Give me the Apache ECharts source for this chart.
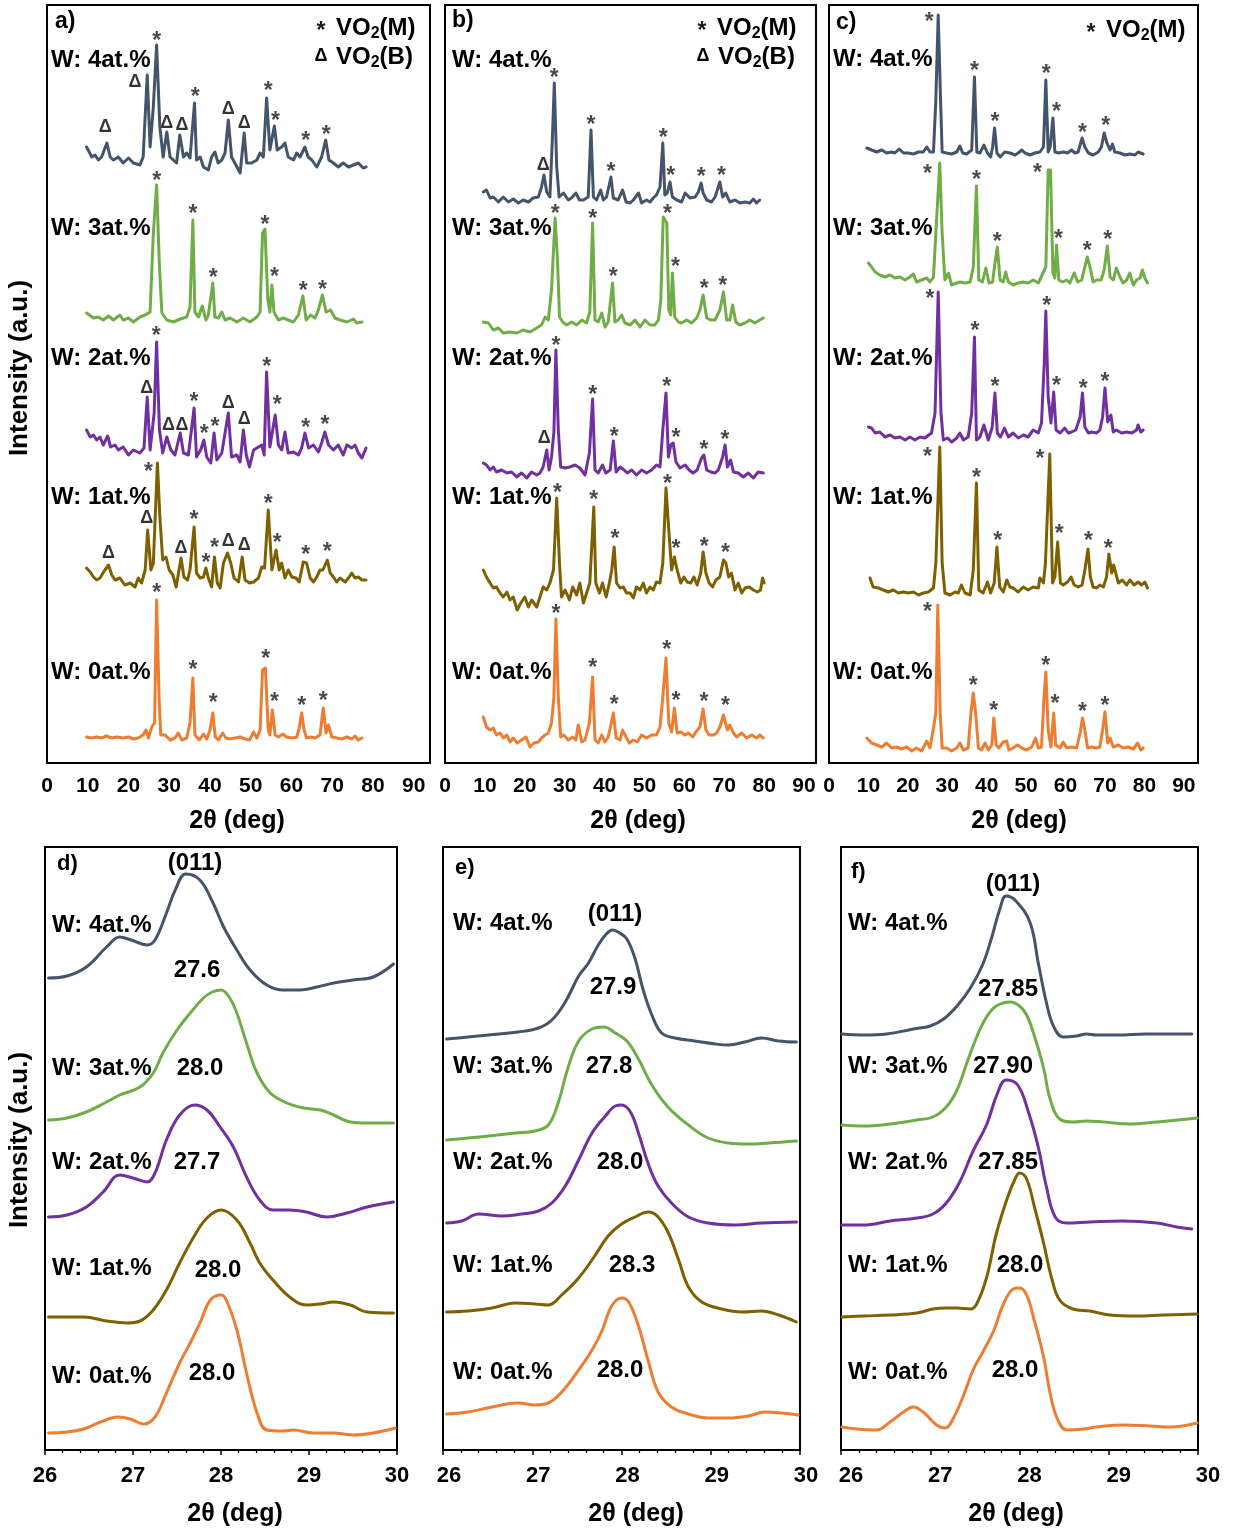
<!DOCTYPE html>
<html>
<head>
<meta charset="utf-8">
<script src="https://cdn.jsdelivr.net/npm/echarts@6/dist/echarts.min.js"></script>
<style>
html, body { margin: 0; padding: 0; background: #fff; }
#chart { width: 1233px; height: 1531px; }
</style>
</head>
<body>
<div id="chart"></div>
<script>
// ---------- tick labels ----------
const wideTicks = [0, 10, 20, 30, 40, 50, 60, 70, 80, 90];
const zoomTicks = [26, 27, 28, 29, 30];

// ---------- sample names ----------
const samples = ['W: 4at.%', 'W: 3at.%', 'W: 2at.%', 'W: 1at.%', 'W: 0at.%'];

// ---------- full XRD patterns, [2θ, intensity a.u. above each trace's baseline] ----------
// panel a
const patA4 = [[9.7,16],[11.0,6],[11.8,8],[12.6,3],[13.4,6],[14.7,20],[15.5,6],[16.3,3],[17.5,6],[18.7,0],[20.0,5],[21.2,0],[22.8,-2],[23.6,6],[24.6,88],[25.3,16],[26.1,56],[26.9,118],[27.7,36],[28.5,6],[29.4,31],[30.2,6],[31.0,3],[31.8,0],[32.6,28],[33.5,6],[34.3,10],[35.1,5],[36.2,60],[36.7,3],[37.6,6],[38.4,-4],[39.6,-7],[40.4,6],[41.2,11],[42.0,0],[42.9,3],[43.7,10],[44.5,43],[45.3,6],[46.1,0],[47.4,-10],[48.4,30],[49.0,0],[50.2,0],[51.5,3],[52.3,10],[53.1,6],[53.9,65],[54.7,13],[55.8,37],[56.5,13],[57.6,16],[58.4,20],[59.2,6],[60.5,3],[61.3,10],[62.1,6],[63.3,16],[64.1,6],[65.0,3],[66.2,-4],[67.4,6],[68.4,23],[69.2,3],[70.3,0],[71.5,-4],[72.7,0],[74.0,-4],[75.2,-2],[76.4,0],[77.6,-5],[78.3,-4]];
const patA3 = [[9.7,6],[11.4,1],[12.6,2],[13.8,-1],[15.1,3],[16.3,-1],[17.9,4],[18.7,-1],[20.0,1],[21.2,-3],[22.8,2],[24.1,4],[25.3,7],[26.1,86],[26.9,134],[27.6,52],[28.2,6],[29.4,-1],[31.0,-3],[32.7,0],[34.3,2],[35.1,12],[35.8,99],[36.3,7],[37.2,2],[38.1,13],[39.0,-1],[39.6,4],[40.7,36],[41.2,2],[42.1,1],[42.9,7],[43.7,-1],[44.9,1],[46.6,-3],[48.2,1],[49.8,-3],[51.5,2],[52.3,7],[52.9,86],[53.5,90],[54.2,19],[54.7,7],[55.2,34],[55.7,7],[56.8,-1],[58.0,1],[59.2,-1],[60.5,-3],[61.7,4],[62.8,23],[63.6,-1],[64.7,4],[65.8,1],[66.6,9],[67.6,24],[68.5,7],[69.6,9],[70.7,1],[71.9,-1],[73.6,-3],[75.2,0],[76.0,-4],[77.3,-3]];
const patA2 = [[9.7,22],[10.6,15],[11.4,17],[12.2,12],[13.0,15],[13.8,7],[14.9,16],[15.6,5],[16.7,7],[17.5,2],[18.7,5],[20.0,-3],[21.2,2],[22.8,-1],[23.8,4],[24.6,55],[25.3,2],[26.3,39],[26.9,110],[27.6,22],[28.4,-1],[29.4,15],[30.4,2],[31.4,-3],[32.7,19],[33.5,-1],[34.7,-3],[36.1,44],[36.7,-5],[37.7,2],[38.5,12],[39.2,-5],[40.2,-11],[41.0,19],[41.7,-8],[42.9,-1],[44.5,39],[45.3,-5],[46.6,-3],[47.4,-10],[48.2,22],[48.9,-3],[49.7,-15],[50.7,2],[51.9,5],[52.7,7],[53.3,-3],[53.9,80],[54.7,5],[56.0,37],[56.8,7],[57.6,2],[58.4,20],[59.2,-1],[60.5,0],[61.7,-3],[62.5,4],[63.3,19],[64.2,4],[65.4,7],[66.6,0],[67.4,9],[68.2,20],[69.1,7],[70.3,2],[71.5,7],[72.7,-3],[73.6,7],[74.8,4],[75.6,7],[76.4,-1],[77.3,-6],[78.3,4]];
const patA1 = [[9.7,10],[10.6,6],[11.4,1],[12.2,-2],[13.0,0],[14.2,8],[15.1,13],[15.9,3],[16.7,-2],[17.9,0],[19.1,-7],[20.4,-5],[21.6,-9],[22.4,0],[23.2,-5],[24.1,8],[24.7,48],[25.5,8],[26.1,15],[27.1,115],[27.7,61],[28.4,18],[29.2,21],[30.0,8],[30.9,3],[31.7,-9],[32.9,20],[33.6,1],[34.5,-2],[35.1,8],[36.1,51],[36.7,5],[37.6,0],[38.4,1],[39.0,10],[39.6,0],[40.4,-9],[41.1,21],[41.8,-5],[42.5,-10],[43.3,15],[44.3,25],[45.1,15],[45.9,0],[47.0,-4],[47.9,21],[48.6,-2],[49.7,-5],[50.7,-4],[51.9,0],[52.7,11],[53.4,10],[54.3,68],[55.2,8],[56.2,28],[57.0,8],[57.6,15],[58.4,0],[59.2,8],[60.1,1],[61.1,0],[61.9,-4],[62.9,16],[63.7,15],[64.6,0],[65.4,-4],[66.2,1],[67.0,8],[67.7,8],[68.8,18],[69.5,5],[70.3,1],[71.1,-4],[71.9,0],[73.2,-4],[74.0,0],[74.8,5],[75.6,0],[76.4,1],[77.3,-2],[78.3,-2]];
const patA0 = [[9.7,1],[11.0,0],[12.2,1],[13.4,0],[14.6,2],[15.9,0],[17.1,1],[18.7,0],[20.0,1],[21.2,-1],[22.4,0],[23.6,3],[24.3,8],[24.9,0],[25.7,11],[26.4,15],[26.9,138],[27.5,41],[27.9,3],[29.0,3],[30.2,-2],[31.4,0],[32.2,5],[33.1,-2],[34.3,0],[35.1,15],[35.8,60],[36.3,3],[37.4,-2],[38.4,4],[39.2,-1],[40.0,8],[40.7,25],[41.3,1],[42.1,-2],[43.1,5],[43.9,0],[44.9,-1],[46.2,0],[47.4,1],[48.6,-1],[49.7,-2],[50.7,6],[51.5,0],[52.3,8],[52.9,68],[53.6,70],[54.3,8],[54.7,3],[55.3,28],[56.0,3],[56.8,1],[57.9,4],[58.8,1],[60.1,0],[61.3,1],[61.9,10],[62.5,25],[63.1,8],[63.7,0],[64.7,1],[65.8,0],[67.0,3],[67.8,30],[68.5,5],[69.1,13],[69.9,1],[71.1,0],[72.3,-1],[73.6,1],[74.8,-1],[75.6,2],[76.4,-2],[77.3,0]];
// panel b
const patB4 = [[9.6,8],[10.4,10],[11.3,2],[12.1,3],[13.4,-2],[14.6,3],[15.9,-2],[17.1,1],[18.4,-3],[19.6,0],[20.9,-2],[22.1,2],[23.4,3],[24.2,13],[24.8,25],[25.5,8],[26.3,3],[26.9,60],[27.4,117],[28.0,33],[28.6,3],[29.7,7],[30.9,0],[31.7,2],[32.8,7],[33.7,0],[34.7,0],[35.9,3],[36.6,70],[37.2,3],[38.0,0],[39.0,10],[39.7,0],[40.5,3],[41.6,23],[42.2,2],[43.4,0],[44.5,10],[45.4,-2],[46.4,-3],[47.2,0],[48.5,7],[49.3,-3],[50.5,0],[51.4,-2],[52.2,2],[53.0,5],[53.9,13],[54.6,57],[55.1,5],[55.7,7],[56.4,18],[57.0,3],[58.1,0],[59.3,-2],[60.2,7],[61.4,2],[62.7,3],[63.5,8],[64.2,17],[64.7,7],[65.6,0],[66.8,-2],[67.7,3],[68.9,18],[69.6,3],[70.4,7],[71.4,-2],[72.7,0],[73.9,-3],[75.2,-2],[76.4,-3],[77.3,1],[78.1,-3],[78.9,0]];
const patB3 = [[9.6,0],[10.9,-1],[12.1,-8],[13.4,-6],[14.6,-11],[16.3,-10],[18.0,-11],[19.6,-8],[21.3,-10],[23.0,-6],[24.2,-3],[25.1,5],[25.9,2],[26.7,32],[27.6,104],[28.2,62],[28.7,5],[29.5,0],[30.5,-3],[31.7,0],[33.0,-3],[34.3,2],[35.5,-1],[36.3,10],[37.0,99],[37.6,2],[38.4,0],[39.3,9],[40.1,-5],[40.9,0],[42.0,39],[42.6,0],[43.4,2],[44.3,7],[45.1,-1],[46.4,-3],[47.6,2],[48.9,-5],[50.1,2],[51.4,-3],[52.6,-3],[53.5,2],[54.1,22],[54.7,105],[55.6,99],[56.1,12],[56.6,7],[57.0,49],[57.6,5],[58.5,0],[59.3,-1],[60.6,2],[61.8,-1],[63.1,4],[63.9,12],[64.7,27],[65.6,4],[66.6,2],[67.7,2],[68.9,12],[69.8,30],[70.6,2],[71.4,2],[72.1,17],[72.9,0],[73.9,-3],[75.2,-1],[76.4,2],[77.7,-1],[78.9,2],[79.8,4]];
const patB2 = [[9.6,9],[10.4,7],[11.3,2],[12.1,5],[12.9,0],[14.2,2],[15.5,-1],[16.7,0],[18.0,-5],[19.2,-1],[20.5,-6],[21.7,0],[23.0,-3],[23.8,-1],[24.6,5],[25.5,22],[26.1,2],[26.7,15],[27.3,40],[27.8,122],[28.4,42],[29.0,5],[30.1,4],[31.3,5],[32.6,7],[33.8,4],[35.1,-3],[36.2,19],[37.0,73],[37.6,2],[38.4,-1],[39.5,7],[40.3,-1],[41.4,2],[42.2,31],[42.9,0],[43.9,5],[44.9,2],[45.7,-1],[46.8,2],[48.0,-3],[49.3,2],[50.5,-1],[51.8,2],[53.0,7],[53.9,5],[54.6,42],[55.4,79],[56.0,15],[56.6,27],[57.2,29],[57.9,10],[58.9,4],[60.2,7],[61.2,2],[62.2,-1],[63.2,2],[64.3,14],[64.9,17],[65.6,2],[66.6,0],[67.7,-1],[68.5,2],[69.6,15],[70.2,27],[70.8,5],[71.6,12],[72.3,0],[73.5,-1],[74.8,-5],[76.0,-1],[77.3,-6],[78.5,0],[79.8,-1]];
const patB1 = [[9.6,17],[10.4,10],[11.3,4],[12.1,-1],[12.9,0],[13.8,-6],[14.6,-10],[15.5,-5],[16.3,-13],[17.1,-10],[18.1,-23],[19.0,-16],[20.0,-10],[20.9,-20],[21.7,-13],[23.0,-20],[23.8,-10],[24.6,0],[25.5,-3],[26.3,4],[27.2,17],[28.0,89],[28.7,24],[29.2,-10],[30.1,-3],[31.2,-13],[32.0,0],[33.0,-8],[33.8,4],[34.7,-16],[35.5,-6],[36.3,4],[37.3,80],[37.8,4],[38.7,-6],[39.5,4],[40.4,-10],[41.2,4],[41.8,17],[42.4,40],[43.0,4],[43.9,-1],[44.7,0],[45.5,-6],[46.4,-6],[47.2,-11],[48.0,0],[48.9,-3],[49.7,4],[50.5,-6],[51.4,0],[52.2,-3],[53.0,5],[53.9,4],[54.6,24],[55.4,99],[56.1,57],[56.8,17],[57.5,30],[58.2,17],[59.1,4],[59.9,10],[60.7,5],[61.6,4],[62.4,10],[63.2,2],[64.1,14],[64.7,35],[65.4,14],[66.2,4],[67.1,0],[67.9,7],[68.9,10],[69.8,27],[70.4,24],[71.1,10],[71.8,14],[72.7,-3],[73.5,4],[74.4,-6],[75.2,-1],[76.3,0],[77.3,-3],[78.3,-5],[79.1,-3],[79.6,9],[80.0,4]];
const patB0 = [[9.6,20],[10.4,10],[11.3,7],[12.1,9],[12.9,2],[13.8,4],[14.6,-1],[15.5,2],[16.3,-5],[17.1,-1],[18.1,-6],[19.2,-3],[20.3,0],[21.3,-10],[22.3,-6],[23.4,-5],[24.2,-1],[25.1,2],[25.9,4],[26.7,14],[27.3,40],[27.8,118],[28.4,40],[29.0,0],[29.8,2],[30.9,-3],[32.0,0],[32.8,-3],[33.4,12],[34.3,-5],[35.1,-3],[36.2,14],[37.0,60],[37.6,-3],[38.4,-6],[39.3,2],[40.1,-5],[40.9,0],[41.5,10],[42.2,24],[42.9,-1],[43.9,-3],[44.5,7],[45.4,0],[46.2,-6],[47.2,-3],[48.2,-5],[49.3,2],[50.5,-1],[51.8,2],[53.0,2],[53.9,10],[54.6,40],[55.4,79],[56.1,14],[56.8,5],[57.5,29],[58.2,4],[59.1,5],[60.2,2],[61.0,4],[62.1,0],[62.9,5],[63.9,10],[64.7,28],[65.4,7],[66.2,2],[67.3,2],[68.1,4],[68.9,10],[69.8,22],[70.2,24],[70.8,7],[71.4,12],[72.3,4],[73.1,0],[74.4,4],[75.6,-1],[76.9,2],[78.1,-1],[78.9,2],[79.8,-1]];
// panel c
const patC4 = [[9.6,5],[10.8,3],[12.1,1],[13.4,3],[14.6,0],[15.9,1],[16.7,0],[17.8,4],[18.9,0],[20.1,0],[21.4,-1],[22.7,1],[23.9,1],[24.8,6],[25.6,1],[26.5,1],[27.1,53],[27.7,138],[28.3,53],[28.7,1],[29.8,0],[31.1,-1],[32.4,1],[33.2,7],[33.9,0],[34.9,-1],[36.2,3],[36.9,76],[37.5,1],[38.3,0],[39.3,8],[40.2,0],[41.0,-4],[41.5,6],[42.0,25],[42.6,0],[43.4,-4],[44.6,1],[45.9,0],[47.2,-2],[48.0,0],[48.9,3],[49.7,0],[51.0,-2],[52.2,0],[53.5,1],[54.4,6],[55.0,73],[55.6,1],[56.1,6],[56.8,35],[57.3,1],[58.2,0],[59.4,1],[60.5,0],[61.5,3],[62.4,0],[63.2,1],[64.2,15],[64.9,6],[65.8,0],[67.0,-2],[68.3,1],[69.1,6],[69.8,20],[70.5,10],[71.3,3],[71.9,9],[72.5,1],[73.8,0],[75.1,-2],[76.3,-1],[77.6,-2],[78.4,1],[79.7,-1]];
const patC3 = [[10.0,18],[10.8,14],[11.7,9],[12.9,6],[14.2,4],[15.5,6],[16.7,3],[18.0,4],[19.3,1],[20.5,4],[21.4,7],[22.2,-1],[23.5,1],[24.8,3],[25.6,-1],[26.5,4],[27.1,48],[28.1,118],[28.7,48],[29.4,1],[30.3,8],[31.1,-4],[32.4,-2],[33.2,-1],[34.5,-2],[35.8,-1],[36.6,14],[37.4,95],[38.0,1],[38.9,-1],[39.8,13],[40.6,-2],[41.5,-1],[42.1,18],[42.7,34],[43.4,1],[44.2,-1],[44.8,9],[45.5,-1],[46.7,-4],[48.0,-2],[49.3,-1],[50.5,-2],[51.8,1],[53.1,-2],[54.4,9],[55.0,14],[55.6,111],[56.2,111],[56.8,8],[57.3,3],[57.7,36],[58.3,1],[59.2,-1],[60.3,1],[61.1,-2],[62.2,8],[63.1,-1],[64.1,1],[64.9,14],[65.5,24],[66.2,14],[67.0,-1],[67.9,1],[69.0,1],[69.8,11],[70.6,35],[71.3,4],[72.1,1],[72.9,13],[73.8,4],[74.6,-2],[75.5,1],[76.3,8],[77.2,-4],[78.0,1],[78.9,3],[79.5,11],[80.1,3],[80.8,-2]];
const patC2 = [[10.0,6],[10.8,5],[11.7,0],[12.9,1],[14.2,-4],[15.5,-2],[16.7,-5],[18.0,-4],[19.3,-7],[20.5,-4],[21.8,-7],[23.1,-4],[24.3,-5],[26.0,0],[26.9,20],[27.7,141],[28.4,20],[29.0,-7],[30.1,-5],[31.1,-9],[32.4,-5],[33.2,0],[34.1,-7],[35.3,-4],[36.2,20],[36.9,96],[37.4,-7],[38.3,-4],[39.3,8],[40.4,-7],[41.4,6],[42.1,40],[42.7,0],[43.5,-4],[44.5,5],[45.5,-4],[46.7,0],[48.0,-5],[49.3,-2],[50.5,-4],[51.8,3],[53.1,0],[53.9,10],[54.6,70],[55.0,122],[55.6,36],[56.3,10],[57.0,41],[57.6,3],[58.6,0],[59.8,5],[60.7,0],[61.5,1],[62.6,3],[63.7,16],[64.3,40],[64.9,6],[65.8,0],[66.6,1],[67.9,0],[68.7,3],[69.4,16],[70.0,45],[70.7,11],[71.5,18],[72.1,1],[72.9,3],[74.2,0],[75.5,1],[76.8,0],[78.0,3],[78.4,8],[79.1,1],[79.7,3]];
const patC1 = [[10.4,9],[11.2,0],[12.5,-1],[13.8,-3],[15.0,-5],[16.3,-3],[17.6,-6],[18.9,-5],[20.1,-6],[21.4,-5],[22.7,-8],[23.9,-6],[25.2,-5],[26.5,-1],[27.1,24],[28.1,140],[28.7,24],[29.4,-6],[30.7,-8],[32.0,-5],[32.8,-6],[33.6,2],[34.5,-6],[35.8,-8],[36.6,17],[37.4,104],[38.0,-3],[39.1,-6],[40.2,5],[41.0,-6],[41.9,4],[42.6,40],[43.3,0],[44.2,-5],[45.1,7],[45.9,0],[46.7,-1],[48.0,-5],[49.3,0],[50.5,-3],[51.8,0],[53.1,-1],[53.5,9],[54.4,4],[54.9,24],[56.0,133],[56.7,4],[57.3,10],[58.0,45],[58.7,4],[59.4,2],[60.5,5],[61.4,10],[62.2,2],[63.2,0],[64.2,2],[64.9,17],[65.7,38],[66.3,10],[67.0,0],[67.9,-1],[68.7,2],[69.6,0],[70.4,10],[71.0,33],[71.7,14],[72.2,22],[72.7,20],[73.4,4],[74.4,7],[75.5,2],[76.3,7],[77.4,2],[78.4,5],[79.3,2],[80.1,5],[80.8,-1]];
const patC0 = [[9.6,9],[10.8,4],[12.1,2],[13.4,0],[14.6,4],[15.9,-1],[17.2,0],[18.4,-2],[19.7,0],[21.0,-4],[22.2,-1],[23.5,-4],[24.8,6],[25.6,-1],[26.5,19],[27.1,34],[27.6,142],[28.2,34],[28.7,-1],[29.8,-1],[31.1,-4],[32.4,-1],[33.2,4],[34.1,-3],[35.3,-1],[36.0,34],[36.6,54],[37.2,34],[37.9,-1],[38.7,-3],[39.6,4],[40.4,-3],[41.3,2],[41.8,29],[42.4,2],[43.1,-1],[44.2,5],[45.1,6],[45.6,-3],[46.7,-1],[47.8,2],[48.9,-1],[50.1,-3],[51.4,0],[52.4,9],[53.1,-1],[53.9,0],[54.5,47],[55.0,75],[55.6,17],[56.3,0],[57.0,34],[57.5,2],[58.6,-1],[59.4,5],[60.3,-1],[61.5,0],[62.8,-1],[63.7,14],[64.3,29],[64.9,17],[65.6,-1],[66.6,0],[67.9,-1],[68.7,0],[69.4,17],[70.0,35],[70.7,4],[71.3,9],[72.1,0],[73.4,2],[74.6,-1],[75.9,0],[77.2,-2],[78.3,4],[79.1,-3],[79.7,-1]];

// ---------- (011) reflection close-ups ----------
const peakD = ['27.6', '28.0', '27.7', '28.0', '28.0'];
const peakE = ['27.9', '27.8', '28.0', '28.3', '28.0'];
const peakF = ['27.85', '27.90', '27.85', '28.0', '28.0'];

const zoomD4 = [[26.04,7],[26.25,9],[26.47,18],[26.70,38],[26.85,48],[26.98,45],[27.16,40],[27.25,45],[27.38,72],[27.48,95],[27.6,111],[27.76,105],[27.91,82],[28.03,58],[28.18,35],[28.33,15],[28.52,0],[28.71,-5],[28.90,-5],[29.09,-2],[29.28,2],[29.50,5],[29.73,8],[29.96,21]];
const zoomD3 = [[26.04,2],[26.25,4],[26.47,10],[26.70,20],[26.85,27],[27.08,35],[27.23,49],[27.34,69],[27.50,92],[27.65,109],[27.80,124],[27.9,130],[28.0,132],[28.1,124],[28.18,109],[28.29,79],[28.41,49],[28.56,29],[28.75,19],[28.94,14],[29.13,12],[29.28,7],[29.47,0],[29.66,-1],[29.96,-1]];
const zoomD2 = [[26.04,0],[26.25,2],[26.47,10],[26.66,25],[26.85,42],[27.00,39],[27.16,35],[27.25,44],[27.38,77],[27.53,102],[27.7,112],[27.84,107],[27.99,90],[28.14,70],[28.29,40],[28.44,17],[28.59,7],[28.78,7],[28.97,5],[29.20,0],[29.43,4],[29.66,10],[29.96,15]];
const zoomD1 = [[26.04,0],[26.25,0],[26.44,0],[26.70,-4],[26.93,-6],[27.08,-4],[27.23,7],[27.38,27],[27.53,54],[27.69,80],[27.84,99],[28.0,107],[28.18,97],[28.33,74],[28.44,54],[28.59,37],[28.78,20],[28.97,12],[29.13,13],[29.28,15],[29.47,12],[29.66,5],[29.96,4]];
const zoomD0 = [[26.04,0],[26.25,1],[26.44,4],[26.63,11],[26.83,16],[26.97,14],[27.12,9],[27.25,16],[27.38,40],[27.53,70],[27.65,90],[27.76,110],[27.88,133],[28.0,138],[28.06,133],[28.18,103],[28.29,60],[28.41,20],[28.52,3],[28.71,2],[28.82,3],[29.05,0],[29.28,0],[29.50,-2],[29.73,0],[29.98,5]];

const zoomE4 = [[26.04,0],[26.28,2],[26.51,4],[26.84,7],[27.07,11],[27.22,19],[27.37,37],[27.52,63],[27.63,76],[27.74,94],[27.83,105],[27.9,109],[27.98,106],[28.06,100],[28.15,81],[28.24,50],[28.34,24],[28.45,6],[28.60,1],[28.82,-2],[29.05,-5],[29.20,-6],[29.38,-3],[29.57,1],[29.76,-2],[29.96,-3]];
const zoomE3 = [[26.04,1],[26.28,3],[26.51,5],[26.81,8],[27.03,10],[27.18,16],[27.29,38],[27.40,73],[27.52,100],[27.67,112],[27.8,114],[27.93,108],[28.06,100],[28.19,82],[28.34,56],[28.52,34],[28.75,16],[28.97,3],[29.20,-2],[29.42,-3],[29.65,-2],[29.96,0]];
const zoomE2 = [[26.04,0],[26.21,2],[26.40,9],[26.66,7],[26.88,9],[27.07,12],[27.22,20],[27.37,37],[27.52,63],[27.67,90],[27.82,107],[27.93,117],[28.0,118],[28.10,111],[28.19,90],[28.30,59],[28.41,37],[28.56,20],[28.75,6],[28.97,0],[29.27,-2],[29.57,0],[29.96,1]];
const zoomE1 = [[26.04,0],[26.28,1],[26.55,4],[26.81,9],[27.03,8],[27.18,7],[27.33,17],[27.52,34],[27.70,56],[27.85,76],[28.00,88],[28.15,95],[28.3,100],[28.4,96],[28.52,80],[28.64,52],[28.75,25],[28.90,10],[29.12,3],[29.35,0],[29.57,1],[29.76,-3],[29.96,-10]];
const zoomE0 = [[26.04,0],[26.28,2],[26.55,7],[26.84,11],[27.03,9],[27.18,11],[27.33,22],[27.52,44],[27.67,64],[27.78,83],[27.89,108],[28.0,116],[28.08,112],[28.19,88],[28.30,53],[28.41,22],[28.56,7],[28.75,0],[28.97,-4],[29.20,-4],[29.42,-2],[29.61,2],[29.79,1],[29.98,-1]];

const zoomF4 = [[26.01,0],[26.25,-1],[26.51,0],[26.81,5],[27.00,8],[27.15,15],[27.30,28],[27.45,46],[27.59,70],[27.69,97],[27.78,125],[27.85,138],[27.96,133],[28.12,111],[28.21,71],[28.30,32],[28.38,8],[28.49,-3],[28.64,-2],[28.75,0],[28.86,-1],[29.09,-1],[29.42,0],[29.93,0]];
const zoomF3 = [[26.01,0],[26.25,-1],[26.55,1],[26.85,5],[27.03,8],[27.18,18],[27.30,35],[27.41,62],[27.52,88],[27.63,108],[27.74,119],[27.9,123],[28.0,119],[28.08,110],[28.17,88],[28.27,57],[28.34,27],[28.45,6],[28.60,3],[28.75,4],[28.94,3],[29.24,1],[29.54,3],[29.99,7]];
const zoomF2 = [[26.01,0],[26.25,0],[26.55,4],[26.85,7],[27.03,11],[27.18,22],[27.33,43],[27.48,74],[27.63,100],[27.75,131],[27.85,145],[27.98,140],[28.10,113],[28.21,78],[28.30,39],[28.40,8],[28.53,2],[28.79,3],[29.16,4],[29.54,2],[29.76,-2],[29.93,-4]];
const zoomF1 = [[26.01,-1],[26.25,0],[26.55,1],[26.85,3],[27.03,7],[27.18,8],[27.30,8],[27.45,7],[27.52,12],[27.63,38],[27.74,82],[27.86,117],[27.95,137],[28.0,143],[28.08,137],[28.17,108],[28.27,73],[28.36,38],[28.45,16],[28.60,7],[28.79,5],[29.01,1],[29.31,0],[29.61,1],[29.99,2]];
const zoomF0 = [[26.01,0],[26.18,-2],[26.40,-3],[26.55,5],[26.70,15],[26.81,20],[26.92,15],[27.07,2],[27.17,-1],[27.26,9],[27.37,31],[27.48,57],[27.59,75],[27.71,96],[27.82,123],[27.93,138],[28.0,139],[28.08,132],[28.17,105],[28.27,70],[28.34,35],[28.42,9],[28.53,-3],[28.72,-2],[28.86,0],[29.16,2],[29.46,1],[29.69,0],[29.99,4]];

// ---------- phase markers: [2θ, height above baseline, phase] ----------
const markA4 = [[26.9,126,'*'],[21.6,81,'Δ'],[14.3,36,'Δ'],[29.4,40,'Δ'],[33.1,38,'Δ'],[36.4,70,'*'],[44.5,54,'Δ'],[48.4,40,'Δ'],[54.3,76,'*'],[56.1,46,'*'],[63.5,26,'*'],[68.5,32,'*']];
const markA3 = [[26.9,142,'*'],[35.8,109,'*'],[40.8,45,'*'],[53.5,98,'*'],[55.8,46,'*'],[62.9,32,'*'],[67.6,33,'*']];
const markA2 = [[26.8,120,'*'],[24.5,64,'Δ'],[29.8,27,'Δ'],[33.1,27,'Δ'],[36.1,54,'*'],[38.6,22,'*'],[41.2,29,'*'],[44.5,49,'Δ'],[48.4,33,'Δ'],[53.9,89,'*'],[56.5,51,'*'],[63.5,28,'*'],[68.2,31,'*']];
const markA1 = [[24.9,110,'*'],[24.5,60,'Δ'],[15.1,25,'Δ'],[32.9,30,'Δ'],[36.1,62,'*'],[39.0,19,'*'],[41.1,34,'*'],[44.5,37,'Δ'],[48.4,33,'Δ'],[54.3,78,'*'],[56.5,39,'*'],[63.5,27,'*'],[68.8,30,'*']];
const markA0 = [[26.9,149,'*'],[35.8,72,'*'],[40.8,39,'*'],[53.7,83,'*'],[55.8,40,'*'],[62.5,36,'*'],[67.8,41,'*']];
const markB4 = [[24.6,35,'Δ'],[27.4,126,'*'],[36.6,79,'*'],[41.6,32,'*'],[54.7,66,'*'],[56.6,28,'*'],[64.2,27,'*'],[69.3,28,'*']];
const markB3 = [[27.6,112,'*'],[37.0,107,'*'],[42.2,49,'*'],[55.8,112,'*'],[57.8,59,'*'],[65.0,37,'*'],[69.6,40,'*']];
const markB2 = [[27.8,130,'*'],[24.9,34,'Δ'],[37.0,81,'*'],[42.4,39,'*'],[55.6,89,'*'],[57.9,38,'*'],[64.9,26,'*'],[70.2,36,'*']];
const markB1 = [[28.2,98,'*'],[37.3,91,'*'],[42.6,52,'*'],[55.8,107,'*'],[57.9,42,'*'],[65.0,44,'*'],[70.3,38,'*']];
const markB0 = [[27.8,127,'*'],[37.0,73,'*'],[42.4,36,'*'],[55.6,91,'*'],[57.9,40,'*'],[64.9,39,'*'],[70.3,35,'*']];
const markC4 = [[25.4,135,'*'],[36.9,86,'*'],[42.1,35,'*'],[55.1,83,'*'],[57.7,45,'*'],[64.3,24,'*'],[70.2,31,'*']];
const markC3 = [[25.0,111,'*'],[37.4,105,'*'],[42.7,43,'*'],[52.9,112,'*'],[58.2,46,'*'],[65.5,34,'*'],[70.7,45,'*']];
const markC2 = [[25.6,138,'*'],[37.0,106,'*'],[55.2,131,'*'],[42.1,50,'*'],[57.7,51,'*'],[64.5,48,'*'],[70.0,55,'*']];
const markC1 = [[25.0,134,'*'],[37.4,113,'*'],[42.8,50,'*'],[53.5,132,'*'],[58.4,57,'*'],[65.8,50,'*'],[70.8,42,'*']];
const markC0 = [[25.0,139,'*'],[36.6,65,'*'],[41.8,40,'*'],[55.0,85,'*'],[57.3,47,'*'],[64.3,39,'*'],[70.0,45,'*']];

// ---------- layout: vertical offset of each stacked trace ----------
const baseA = [600, 444, 311, 185, 25];
const baseB = [563, 441, 291, 176, 26];
const baseC = [610, 482, 330, 176, 16];
const baseD = [465, 328, 233, 133, 17];
const baseE = [411, 309, 227, 138, 36];
const baseF = [416, 325, 225, 134, 23];

const FONT = "'Liberation Sans', Arial, Helvetica, sans-serif";
const colors = ['#44546A', '#70AD47', '#7030A0', '#7F6000', '#ED7D31'];

const panels = [
  { box: [47, 5, 383, 758], xMax: 94, curves: [patA4, patA3, patA2, patA1, patA0], base: baseA, marks: [markA4, markA3, markA2, markA1, markA0] },
  { box: [445, 5, 371, 758], xMax: 93, curves: [patB4, patB3, patB2, patB1, patB0], base: baseB, marks: [markB4, markB3, markB2, markB1, markB0] },
  { box: [829, 5, 369, 758], xMax: 93.6, curves: [patC4, patC3, patC2, patC1, patC0], base: baseC, marks: [markC4, markC3, markC2, markC1, markC0] },
  { box: [45, 847, 352, 603], zoom: true, shift: 0, curves: [zoomD4, zoomD3, zoomD2, zoomD1, zoomD0], base: baseD },
  { box: [443, 847, 357, 603], zoom: true, shift: 12, curves: [zoomE4, zoomE3, zoomE2, zoomE1, zoomE0], base: baseE },
  { box: [841, 847, 357, 603], zoom: true, shift: 20, curves: [zoomF4, zoomF3, zoomF2, zoomF1, zoomF0], base: baseF }
];

const grid = [], xAxis = [], yAxis = [], series = [];

const markRich = {
  s: { fontFamily: FONT, fontSize: 23, fontWeight: 'bold', color: '#1a1a1a', padding: [10, 0, 0, 0] },
  d: { fontFamily: FONT, fontSize: 18, fontWeight: 'bold', color: '#000' }
};

panels.forEach((p, i) => {
  const [left, top, width, height] = p.box;
  grid.push({ left, top, width, height, show: true, borderColor: '#000', borderWidth: 2, backgroundColor: 'transparent' });
  if (p.zoom) {
    xAxis.push({
      gridIndex: i, type: 'value', min: 26, max: 30, interval: 1,
      axisLine: { show: true, lineStyle: { color: '#000', width: 2 } },
      axisTick: { show: true, length: 5, lineStyle: { color: '#000', width: 1.5 } },
      minorTick: { show: true, splitNumber: 5, length: 3, lineStyle: { color: '#000', width: 1.2 } },
      splitLine: { show: false }, minorSplitLine: { show: false },
      axisLabel: { margin: 15, fontFamily: FONT, fontWeight: 'bold', fontSize: 22, color: '#000',
        padding: [0, 0, 0, p.shift], formatter: v => zoomTicks.includes(v) ? String(v) : '' }
    });
  } else {
    xAxis.push({
      gridIndex: i, type: 'value', min: 0, max: p.xMax, interval: 10,
      axisLine: { show: false }, axisTick: { show: false }, splitLine: { show: false },
      axisLabel: { margin: 13, fontFamily: FONT, fontWeight: 'bold', fontSize: 21, color: '#000',
        formatter: v => wideTicks.includes(v) ? String(v) : '' }
    });
  }
  yAxis.push({ gridIndex: i, type: 'value', min: 0, max: height, show: false });

  p.curves.forEach((c, k) => {
    series.push({
      type: 'line', xAxisIndex: i, yAxisIndex: i, name: samples[k],
      data: c.map(([x, v]) => [x, v + p.base[k]]),
      symbol: 'none', smooth: p.zoom ? 0.4 : false, silent: true,
      lineStyle: { color: colors[k], width: 3, join: 'round', cap: 'round' }
    });
  });

  if (p.marks) {
    p.marks.forEach((m, k) => {
      series.push({
        type: 'scatter', xAxisIndex: i, yAxisIndex: i, silent: true,
        symbolSize: 1, itemStyle: { color: 'rgba(0,0,0,0)' },
        data: m.map(([x, v, s]) => ({ value: [x, v + p.base[k]], name: s })),
        label: {
          show: true, position: 'inside',
          formatter: d => d.name === '*' ? '{s|*}' : '{d|Δ}',
          rich: markRich
        }
      });
    });
  }
});

// ---------- text overlays ----------
const graphic = [];
function text(x, y, str, size, align) {
  graphic.push({ type: 'text', x, y, silent: true,
    style: { text: str, font: `bold ${size}px ${FONT}`, fill: '#000',
      align: align || 'left', textAlign: align || 'left', verticalAlign: 'middle', textVerticalAlign: 'middle' } });
}
function phaseLegend(x, y, sym, phase) {
  graphic.push({ type: 'text', x, y, silent: true,
    style: { text: sym === '*' ? '{s|*}' : '{d|Δ}', align: 'center', textAlign: 'center', verticalAlign: 'middle', textVerticalAlign: 'middle',
      rich: { s: { fontFamily: FONT, fontSize: 23, fontWeight: 'bold', fill: '#1a1a1a', padding: [10, 0, 0, 0] },
              d: { fontFamily: FONT, fontSize: 18, fontWeight: 'bold', fill: '#000' } } } });
  graphic.push({ type: 'text', x: x + 15, y: y + 1, silent: true,
    style: { text: `{a|VO}{b|2}{a|(${phase})}`, align: 'left', textAlign: 'left', verticalAlign: 'middle', textVerticalAlign: 'middle',
      rich: { a: { fontFamily: FONT, fontSize: 24, fontWeight: 'bold', fill: '#000' },
              b: { fontFamily: FONT, fontSize: 16, fontWeight: 'bold', fill: '#000', padding: [12, 0, 0, 0] } } } });
}

// panel letters
text(55, 22, 'a)', 23); text(452, 21, 'b)', 23); text(836, 23, 'c)', 23);
text(57, 864, 'd)', 22); text(455, 868, 'e)', 22); text(851, 872, 'f)', 22);

// legends
phaseLegend(321, 27, '*', 'M'); phaseLegend(321, 56, 'Δ', 'B');
phaseLegend(702, 27, '*', 'M'); phaseLegend(703, 56, 'Δ', 'B');
phaseLegend(1091, 29, '*', 'M');

// sample names
const topRows = [60, 228, 358, 497, 672];
samples.forEach((s, k) => { text(51, topRows[k], s, 24); text(452, topRows[k], s, 24); text(833, topRows[k] - (k === 0 ? 1 : 0), s, 24); });
const rowsD = [925, 1068, 1162, 1268, 1376];
const rowsEF = [923, 1066, 1162, 1265, 1372];
samples.forEach((s, k) => { text(52, rowsD[k], s, 24); text(453, rowsEF[k], s, 24); text(848, rowsEF[k], s, 24); });

// (011) reflection and fitted peak positions
text(195, 863, '(011)', 24, 'center'); text(615, 914, '(011)', 24, 'center'); text(1013, 884, '(011)', 24, 'center');
const posD = [[197, 970], [200, 1068], [197, 1162], [218, 1270], [212, 1373]];
const posE = [[613, 987], [609, 1066], [620, 1162], [632, 1265], [620, 1370]];
const posF = [[1008, 989], [1003, 1066], [1008, 1162], [1020, 1265], [1015, 1370]];
peakD.forEach((v, k) => text(posD[k][0], posD[k][1], v, 24, 'center'));
peakE.forEach((v, k) => text(posE[k][0], posE[k][1], v, 24, 'center'));
peakF.forEach((v, k) => text(posF[k][0], posF[k][1], v, 24, 'center'));

// axis titles
[[237, 821], [638, 821], [1019, 821], [235, 1514], [636, 1514], [1016, 1514]].forEach(([x, y]) => text(x, y, '2θ (deg)', 25, 'center'));
[368, 1140].forEach(y => graphic.push({ type: 'text', x: 20, y, rotation: Math.PI / 2, silent: true,
  style: { text: 'Intensity (a.u.)', font: `bold 26px ${FONT}`, fill: '#000', align: 'center', textAlign: 'center', verticalAlign: 'middle', textVerticalAlign: 'middle' } }));

const chart = echarts.init(document.getElementById('chart'), null, { renderer: 'canvas' });
chart.setOption({ animation: false, backgroundColor: '#fff', grid, xAxis, yAxis, series, graphic });
</script>
</body>
</html>
